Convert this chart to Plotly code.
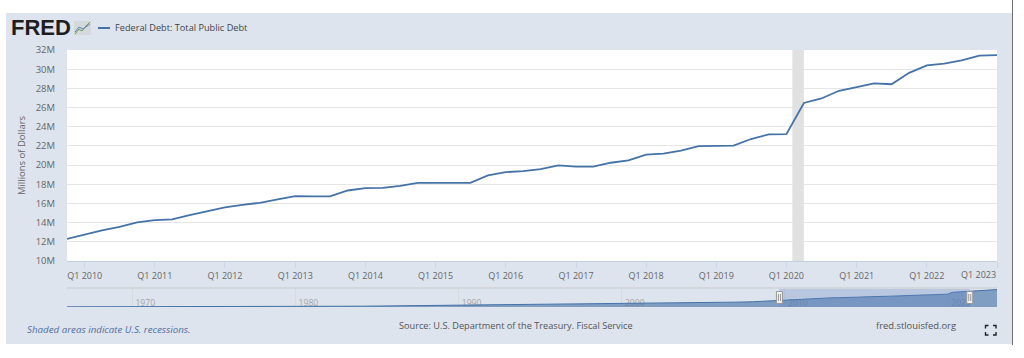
import plotly.graph_objects as go

# Main chart data (millions of dollars, quarterly)
dates = [f"{y}-{m}-01" for y in range(2009, 2024) for m in ("01", "04", "07", "10")]
dates = dates[3:-3]
debt = [12311, 12773, 13202, 13562, 14025, 14270, 14343, 14790, 15223, 15582, 15856, 16066, 16433,
        16771, 16738, 16738, 17352, 17602, 17633, 17824, 18141, 18152, 18152, 18153, 18922,
        19264, 19381, 19573, 19977, 19846, 19845, 20245, 20492, 21089, 21195, 21516, 21974,
        22028, 22023, 22719, 23201, 23224, 26477, 26945, 27748, 28133, 28529, 28429, 29617,
        30401, 30569, 30929, 31420, 31459]

# Navigator history before the main window (millions of dollars, yearly)
hist_years = list(range(1966, 2010))
hist_debt = [320, 330, 350, 360, 372, 400, 430, 460, 475, 530, 620, 700, 780, 830, 880, 960, 1070,
             1250, 1450, 1700, 2000, 2300, 2500, 2800, 3150, 3500, 3900, 4300, 4600, 4900, 5100,
             5400, 5500, 5600, 5700, 5700, 6000, 6400, 7000, 7600, 8200, 8800, 9400, 11100]

y_ticks = list(range(10000, 34000, 2000))
y_labels = [f"{v // 1000}M" for v in y_ticks]
x_ticks = [f"{y}-01-01" for y in range(2010, 2024)]
x_labels = [f"Q1 {y}" for y in range(2010, 2023)] + [""]
nav_ticks = ["1970-01-01", "1980-01-01", "1990-01-01", "2000-01-01", "2010-01-01", "2020-01-01"]
nav_labels = ["1970", "1980", "1990", "2000", "2010", "2020"]
recession = ("2020-02-01", "2020-04-01")
selection = ("2009-09-01", "2021-05-01")
x_range = ["2009-10-01", "2023-01-01"]
y_range = [10000, 32000]

W, H = 1024, 358
L, R, T, B = 67, 997, 50, 311
NAV_BOTTOM = 307
FONT = "Open Sans"
LINE = "#4572A7"
PANEL = "#DDE4EE"


def px(x):
    return (x - L) / (R - L)


def py(y):
    return (B - y) / (B - T)


nav_x = [f"{y}-01-01" for y in hist_years] + dates
nav_y = hist_debt + debt

fig = go.Figure()
fig.add_trace(go.Scatter(x=dates, y=debt, mode="lines", line=dict(color=LINE, width=1.8),
                         xaxis="x", yaxis="y", hoverinfo="x+y", showlegend=False))
fig.add_trace(go.Scatter(x=nav_x, y=nav_y, mode="lines", fill="tozeroy",
                         line=dict(color=LINE, width=1), fillcolor="rgba(69,114,167,0.62)",
                         xaxis="x2", yaxis="y2", hoverinfo="skip", showlegend=False))

shapes = [
    # panel
    dict(type="rect", xref="paper", yref="paper", x0=px(6), x1=px(1012), y0=py(344), y1=py(13),
         fillcolor=PANEL, line_width=0, layer="below"),
    # right edge
    dict(type="line", xref="paper", yref="paper", x0=px(1012.5), x1=px(1012.5), y0=py(345), y1=py(0),
         line=dict(color="#6e6e6e", width=1), layer="below"),
    # plot background
    dict(type="rect", xref="x", yref="y", x0=x_range[0], x1=x_range[1], y0=y_range[0], y1=y_range[1],
         fillcolor="white", line_width=0, layer="below"),
    # recession
    dict(type="rect", xref="x", yref="y", x0=recession[0], x1=recession[1], y0=y_range[0], y1=y_range[1],
         fillcolor="#E1E1E1", line_width=0, layer="between"),
    # navigator frame and selection
    dict(type="line", xref="paper", yref="paper", x0=0, x1=1, y0=py(288), y1=py(288),
         line=dict(color="#D3D6DA", width=2), layer="below"),
    dict(type="rect", xref="x2", yref="paper", x0=selection[0], x1=selection[1], y0=py(NAV_BOTTOM), y1=py(289),
         fillcolor="rgba(102,133,194,0.3)", line_width=0, layer="above"),
    # legend key
    dict(type="line", xref="paper", yref="paper", x0=px(98), x1=px(110), y0=py(28), y1=py(28),
         line=dict(color=LINE, width=2), layer="above"),
    # logo icon
    dict(type="rect", xref="paper", yref="paper", x0=px(74), x1=px(91), y0=py(35), y1=py(21),
         fillcolor="#D5D9DC", line_width=0, layer="above"),
    dict(type="path", xref="paper", yref="paper",
         path=f"M {px(75)} {py(34)} L {px(79)} {py(29)} L {px(82)} {py(31)} L {px(86)} {py(26)} L {px(90)} {py(22)}",
         line=dict(color="#6E9A5A", width=1), layer="above"),
    dict(type="path", xref="paper", yref="paper",
         path=f"M {px(75)} {py(32)} L {px(79)} {py(27)} L {px(83)} {py(29)} L {px(90)} {py(24)}",
         line=dict(color="#5C86B8", width=1), layer="above"),
]

# navigator handles
for edge in selection:
    shapes.append(dict(type="rect", xref="x2", yref="paper", xsizemode="pixel", xanchor=edge,
                       x0=-3, x1=3, y0=py(303.5), y1=py(291.5), fillcolor="#F2F2F2",
                       line=dict(color="#999999", width=1), layer="above"))
    for off in (-1, 1):
        shapes.append(dict(type="line", xref="x2", yref="paper", xsizemode="pixel", xanchor=edge,
                           x0=off, x1=off, y0=py(301), y1=py(294),
                           line=dict(color="#999999", width=1), layer="above"))

# fullscreen icon corners
for cx, cy, dx, dy in [(985.5, 325.5, 1, 1), (996, 325.5, -1, 1), (985.5, 335, 1, -1), (996, 335, -1, -1)]:
    shapes.append(dict(type="path", xref="paper", yref="paper",
                       path=f"M {px(cx + 3 * dx)} {py(cy)} L {px(cx)} {py(cy)} L {px(cx)} {py(cy + 3 * dy)}",
                       line=dict(color="#222222", width=1.4), layer="above"))


def note(x, y, text, size=10, color="#555555", anchor="left", **kw):
    return dict(xref="paper", yref="paper", x=px(x), y=py(y), text=text, showarrow=False,
                xanchor=anchor, yanchor="middle", borderpad=0, font=dict(family=kw.pop("family", FONT), size=size, color=color), **kw)


annotations = [
    note(10, 28, "<b>FRED</b>", size=22, color="#1E1E1E", family="Liberation Sans"),
    note(114, 28, "Federal Debt: Total Public Debt", size=9.2, color="#444444"),
    note(26, 329, "<i>Shaded areas indicate U.S. recessions.</i>", size=9.75, color="#4F6EA3"),
    note(516, 325, "Source: U.S. Department of the Treasury. Fiscal Service", size=9.2, anchor="center"),
    note(957, 325, "fred.stlouisfed.org", size=9.4, anchor="right"),
    dict(xref="x", yref="paper", x=x_ticks[-1], y=py(274), text="Q1 2023", showarrow=False,
         xanchor="right", yanchor="middle", borderpad=0, font=dict(family=FONT, size=9, color="#666666")),
]

fig.update_layout(
    width=W, height=H, autosize=False,
    margin=dict(l=L, r=W - R, t=T, b=H - B, pad=0),
    paper_bgcolor="white", plot_bgcolor="rgba(0,0,0,0)",
    font=dict(family=FONT, size=10, color="#666666"),
    showlegend=False, shapes=shapes, annotations=annotations,
    xaxis=dict(domain=[0, 1], anchor="y", type="date", range=x_range,
               tickmode="array", tickvals=x_ticks, ticktext=x_labels, ticks="outside", ticklen=6,
               tickcolor="#CCD6EB", tickwidth=1, showgrid=False, showline=True, linecolor="#C0D0E0",
               linewidth=1, zeroline=False, tickfont=dict(size=9, color="#666666"), tickangle=0),
    yaxis=dict(domain=[(B - 261) / (B - T), 1], anchor="x", range=y_range,
               tickmode="array", tickvals=y_ticks, ticktext=y_labels, ticks="outside", ticklen=9,
               tickcolor="rgba(0,0,0,0)", showgrid=True, gridcolor="#E6E6E6", gridwidth=1,
               zeroline=False, showline=False, tickfont=dict(size=9.5, color="#666666"),
               title=dict(text="Millions of Dollars", standoff=8, font=dict(size=9.5, color="#666666"))),
    xaxis2=dict(domain=[0, 1], anchor="free", position=0, type="date",
                range=["1966-01-01", "2023-01-01"],
                tickmode="array", tickvals=nav_ticks, ticktext=nav_labels, ticks="",
                ticklabelposition="inside", ticklabelshift=13, ticklabelstandoff=0,
                showgrid=True, gridcolor="#D6DBE2", gridwidth=1, zeroline=False, showline=False,
                layer="below traces", tickfont=dict(size=8.6, color="#A6A6A6"), tickangle=0),
    yaxis2=dict(domain=[(B - NAV_BOTTOM) / (B - T), (B - 289) / (B - T)], anchor="x2", range=[0, 32500], visible=False),
)

fig.write_html("out.html", config={"displayModeBar": False},
               post_script="document.body.style.margin='0';document.body.style.overflow='hidden';")
